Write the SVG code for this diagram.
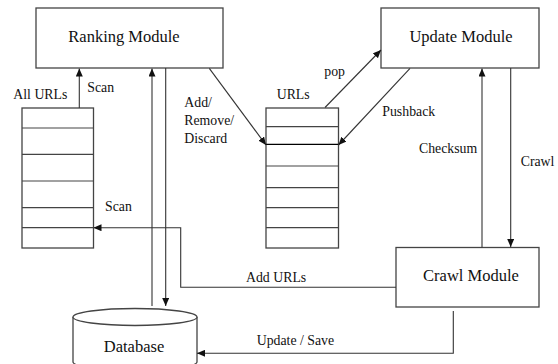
<svg xmlns="http://www.w3.org/2000/svg" width="558" height="364" viewBox="0 0 558 364">
<style>
.box{fill:#fff;stroke:#444;stroke-width:1.3}
.row{stroke:#444;stroke-width:1.2;fill:none}
.t{font-family:"Liberation Serif","Times New Roman",serif;fill:#111}
.big{font-size:16.5px;text-anchor:middle}
.sm{font-size:13.8px}
.c{fill:none;stroke:#333;stroke-width:1.1}
</style>
<defs>
<marker id="ah" markerUnits="userSpaceOnUse" markerWidth="8" markerHeight="7" refX="8" refY="3.5" orient="auto">
<path d="M0,0 L8,3.5 L0,7 z" fill="#111"/>
</marker>
</defs>
<rect width="558" height="364" fill="#fff"/>
<g id="ranking">
<rect class="box" x="36" y="8" width="187" height="60"/>
<text class="t big" x="124" y="42">Ranking Module</text>
</g>
<g id="update">
<rect class="box" x="381" y="8" width="158" height="60"/>
<text class="t big" x="461" y="42">Update Module</text>
</g>
<g id="crawl">
<rect class="box" x="396" y="247.5" width="143" height="59.5"/>
<text class="t big" x="471" y="281">Crawl Module</text>
</g>
<g id="database">
<path class="box" d="M73,317 V362 A62,8 0 0 0 197,362 V317"/>
<ellipse class="box" cx="135" cy="317" rx="62" ry="8.5"/>
<text class="t big" x="134" y="352">Database</text>
</g>
<g id="allurls">
<rect class="box" x="22" y="108" width="71.5" height="140"/>
<path class="row" d="M22,128 H93.5 M22,154.3 H93.5 M22,181 H93.5 M22,207.7 H93.5 M22,227.7 H93.5"/>
<text class="t sm" x="13.3" y="98.5">All URLs</text>
</g>
<g id="urls">
<rect class="box" x="266" y="108" width="72.5" height="140"/>
<path class="row" d="M266,126.7 H338.5 M266,166 H338.5 M266,187.7 H338.5 M266,207.7 H338.5 M266,227.7 H338.5"/>
<path d="M266,144.3 H338.5" stroke="#000" stroke-width="1.3"/>
<text class="t sm" x="276.7" y="99">URLs</text>
</g>
<g id="connectors">
<path class="c" d="M79.3,108 V68.5" marker-end="url(#ah)"/>
<path class="c" d="M152,306 V68.5" marker-end="url(#ah)"/>
<path class="c" d="M165.7,68 V306" marker-end="url(#ah)"/>
<path class="c" d="M209.3,68.3 L266,145" marker-end="url(#ah)"/>
<path class="c" d="M325,107.5 L381,50" marker-end="url(#ah)"/>
<path class="c" d="M410,68.3 L338.5,145" marker-end="url(#ah)"/>
<path class="c" d="M482,247.5 V68.5" marker-end="url(#ah)"/>
<path class="c" d="M510.7,68 V247" marker-end="url(#ah)"/>
<path class="c" d="M396,287.3 H180.7 V227.7 H93.5" marker-end="url(#ah)"/>
<path class="c" d="M453.3,311 V353.3 H197" marker-end="url(#ah)"/>
</g>
<g id="labels">
<text class="t sm" x="87.3" y="92.3">Scan</text>
<text class="t sm" x="184.3" y="106.7">Add/</text>
<text class="t sm" x="184.3" y="125">Remove/</text>
<text class="t sm" x="184.3" y="143.3">Discard</text>
<text class="t sm" x="324.3" y="76">pop</text>
<text class="t sm" x="382.3" y="116">Pushback</text>
<text class="t sm" x="419" y="153.3">Checksum</text>
<text class="t sm" x="520.7" y="165.7">Crawl</text>
<text class="t sm" x="105" y="210.7">Scan</text>
<text class="t sm" x="246" y="281.7">Add URLs</text>
<text class="t sm" x="256.7" y="345">Update / Save</text>
</g>
</svg>
